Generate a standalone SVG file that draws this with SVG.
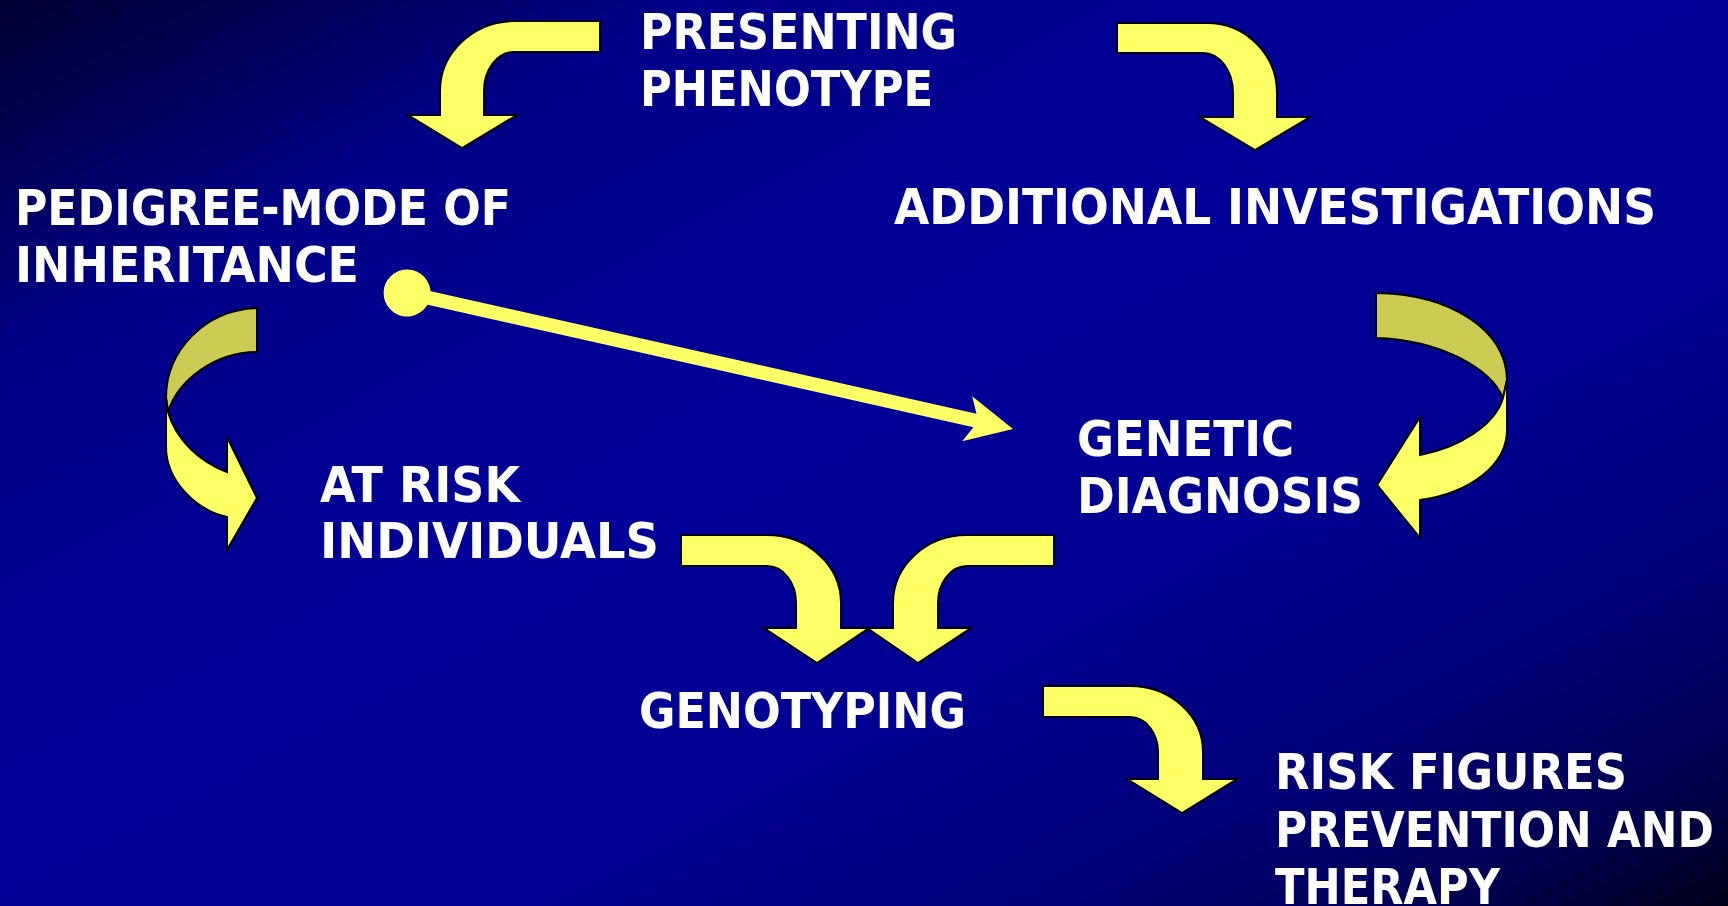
<svg xmlns="http://www.w3.org/2000/svg" width="1728" height="906" viewBox="0 0 1728 906">
  <defs>
    <linearGradient id="bg" x1="0" y1="0" x2="1" y2="1">
      <stop offset="0" stop-color="#000030"/>
      <stop offset="0.2" stop-color="#000088"/>
      <stop offset="0.45" stop-color="#000099"/>
      <stop offset="0.65" stop-color="#000092"/>
      <stop offset="0.8" stop-color="#00007a"/>
      <stop offset="0.92" stop-color="#000050"/>
      <stop offset="1" stop-color="#000018"/>
    </linearGradient>
    <style>
      .lbl { font-family: "DejaVu Sans Condensed", "DejaVu Sans", Verdana, sans-serif; font-weight: bold; font-size: 49px; fill: #ffffff; }
      .arr { fill: #ffff66; stroke: #000000; stroke-width: 2; stroke-linejoin: miter; }
      .dark { fill: #cccc55; stroke: #000000; stroke-width: 2; }
      .link { fill: #ffff66; stroke: none; }
    </style>
  </defs>
  <rect x="0" y="0" width="1728" height="906" fill="url(#bg)"/>

  <g id="connectors">
    <path class="arr" d="M600,21 L515,21 A75,70 0 0 0 440,91 L440,115 L408,115 L462,148 L517,115 L484,115 L484,91 A30,39 0 0 1 514,52 L600,52 Z"/>
    <path class="arr" d="M1117,23 L1207,23 A70,70 0 0 1 1277,93 L1277,117 L1310,117 L1255,150 L1200,117 L1233,117 L1233,93 A30,40 0 0 0 1203,53 L1117,53 Z"/>
    <path class="dark" d="M257,308 C205,310 166,350 166,398 L168,412 C178,380 215,352 257,352 Z"/>
    <path class="arr" d="M166,398 L166,447 C166,480 195,510 227,517 L227,550 L257,498 L227,437 L227,472 C200,462 176,440 168,412 Z"/>
    <path class="dark" d="M1376,293 C1450,294 1507,330 1507,380 L1503,398 C1490,368 1440,340 1376,338 Z"/>
    <path class="arr" d="M1507,380 L1507,430 C1507,465 1470,493 1420,500 L1420,538 L1377,485 L1420,417 L1420,455 C1460,447 1495,425 1503,398 Z"/>
    <path class="arr" d="M681,535 L767,535 A74,68 0 0 1 841,603 L841,628 L869,628 L817,663 L764,628 L796,628 L796,603 A29,37 0 0 0 767,566 L681,566 Z"/>
    <path class="arr" d="M1054,535 L967,535 A74,68 0 0 0 893,603 L893,628 L867,628 L918,663 L971,628 L938,628 L938,603 A29,37 0 0 1 967,566 L1054,566 Z"/>
    <path class="arr" d="M1043,686 L1130,686 A73,66 0 0 1 1203,752 L1203,779 L1237,779 L1182,813 L1127,779 L1158,779 L1158,752 A28,35 0 0 0 1130,717 L1043,717 Z"/>
    <g transform="translate(1013,429) rotate(12.65)">
      <circle class="link" cx="-621" cy="0" r="23.5"/>
      <polygon class="link" points="0,0 -47,23 -39,7 -621,7 -621,-7 -39,-7 -47,-23"/>
    </g>
  </g>

  <g id="node-presenting">
    <text class="lbl" x="640" y="49" textLength="317" lengthAdjust="spacingAndGlyphs">PRESENTING</text>
    <text class="lbl" x="640" y="106" textLength="293" lengthAdjust="spacingAndGlyphs">PHENOTYPE</text>
  </g>
  <g id="node-pedigree">
    <text class="lbl" x="15" y="225" textLength="496" lengthAdjust="spacingAndGlyphs">PEDIGREE-MODE OF</text>
    <text class="lbl" x="15" y="282" textLength="344" lengthAdjust="spacingAndGlyphs">INHERITANCE</text>
  </g>
  <g id="node-additional">
    <text class="lbl" x="894" y="224" textLength="762" lengthAdjust="spacingAndGlyphs">ADDITIONAL INVESTIGATIONS</text>
  </g>
  <g id="node-atrisk">
    <text class="lbl" x="320" y="502" textLength="200" lengthAdjust="spacingAndGlyphs">AT RISK</text>
    <text class="lbl" x="320" y="558" textLength="339" lengthAdjust="spacingAndGlyphs">INDIVIDUALS</text>
  </g>
  <g id="node-genetic">
    <text class="lbl" x="1077" y="456" textLength="217" lengthAdjust="spacingAndGlyphs">GENETIC</text>
    <text class="lbl" x="1077" y="513" textLength="286" lengthAdjust="spacingAndGlyphs">DIAGNOSIS</text>
  </g>
  <g id="node-genotyping">
    <text class="lbl" x="639" y="728" textLength="327" lengthAdjust="spacingAndGlyphs">GENOTYPING</text>
  </g>
  <g id="node-risk">
    <text class="lbl" x="1275" y="789" textLength="352" lengthAdjust="spacingAndGlyphs">RISK FIGURES</text>
    <text class="lbl" x="1275" y="847" textLength="439" lengthAdjust="spacingAndGlyphs">PREVENTION AND</text>
    <text class="lbl" x="1275" y="904" textLength="225" lengthAdjust="spacingAndGlyphs">THERAPY</text>
  </g>
</svg>
